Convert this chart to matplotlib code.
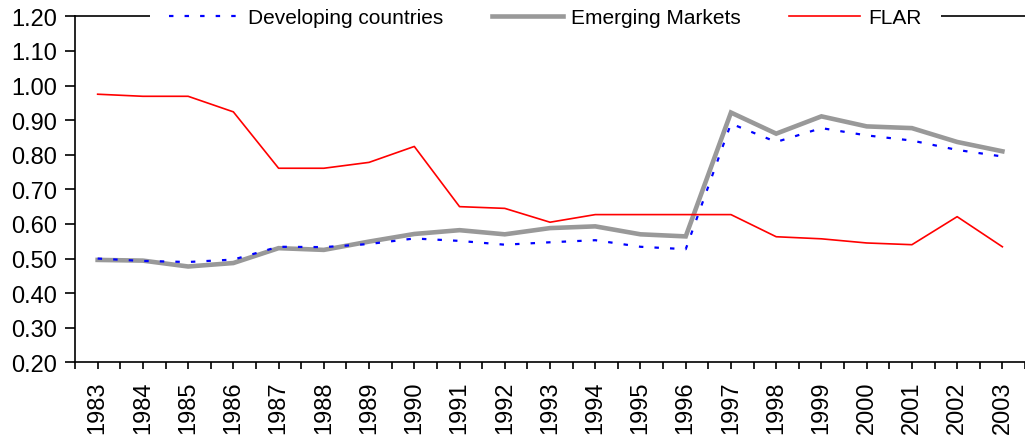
import matplotlib.pyplot as plt
from matplotlib.ticker import FixedLocator, FormatStrFormatter

plt.rcParams["font.family"] = ["Liberation Sans", "DejaVu Sans"]

years = [str(y) for y in range(1983, 2004)]

developing = [0.500, 0.493, 0.490, 0.497, 0.534, 0.533, 0.542, 0.558, 0.551,
              0.540, 0.547, 0.553, 0.534, 0.527, 0.890, 0.837, 0.877, 0.856,
              0.841, 0.814, 0.795]
emerging = [0.496, 0.494, 0.477, 0.487, 0.530, 0.525, 0.549, 0.571, 0.582,
            0.570, 0.588, 0.593, 0.570, 0.564, 0.922, 0.861, 0.911, 0.882,
            0.877, 0.837, 0.810]
flar = [0.975, 0.969, 0.969, 0.924, 0.761, 0.761, 0.778, 0.824, 0.650,
        0.645, 0.605, 0.627, 0.627, 0.627, 0.627, 0.563, 0.557, 0.545,
        0.540, 0.621, 0.534]


def main():
    fig = plt.figure(figsize=(10.25, 4.39), dpi=100)
    ax = fig.add_axes([0.0732, 0.1724, 0.9268, 0.788])

    x = list(range(len(years)))
    l_em, = ax.plot(x, emerging, color="#999999", lw=3.3,
                    solid_joinstyle="miter", label="Emerging Markets")
    l_dev, = ax.plot(x, developing, color="blue", lw=1.6,
                     linestyle=(0, (2, 5)), label="Developing countries")
    l_fl, = ax.plot(x, flar, color="red", lw=1.2, label="FLAR")

    ax.set_xlim(-0.5, len(years) - 0.5)
    ax.set_ylim(0.20, 1.20)

    ax.set_yticks([0.2 + 0.1 * i for i in range(11)])
    ax.yaxis.set_major_formatter(FormatStrFormatter("%.2f"))
    ax.tick_params(axis="y", direction="out", length=7, width=1.2,
                   labelsize=17, pad=6)

    ax.set_xticks(x)
    ax.set_xticklabels(years, rotation=90)
    ax.xaxis.set_minor_locator(FixedLocator([i - 0.5 for i in range(len(years) + 1)]))
    ax.tick_params(axis="x", which="both", direction="out", length=5,
                   width=1.2, labelsize=17, pad=8)

    for side in ["left", "bottom", "top"]:
        ax.spines[side].set_linewidth(1.2)
        ax.spines[side].set_color("black")
    ax.spines["right"].set_visible(False)

    leg = fig.legend(handles=[l_dev, l_em, l_fl], loc="center",
                     bbox_to_anchor=(0.532, 0.958), ncol=3, fontsize=15,
                     frameon=True, fancybox=False, handlelength=3.4,
                     handletextpad=0.4, columnspacing=2.34,
                     borderpad=0.2, borderaxespad=0.0)
    leg.get_frame().set_facecolor("white")
    leg.get_frame().set_edgecolor("none")
    leg.get_frame().set_alpha(1.0)
    # pad the white box a bit so it hides more of the top spine
    leg.get_frame().set_boxstyle("square", pad=0.7)

    fig.savefig("out.png", dpi=100)


if __name__ == "__main__":
    main()
